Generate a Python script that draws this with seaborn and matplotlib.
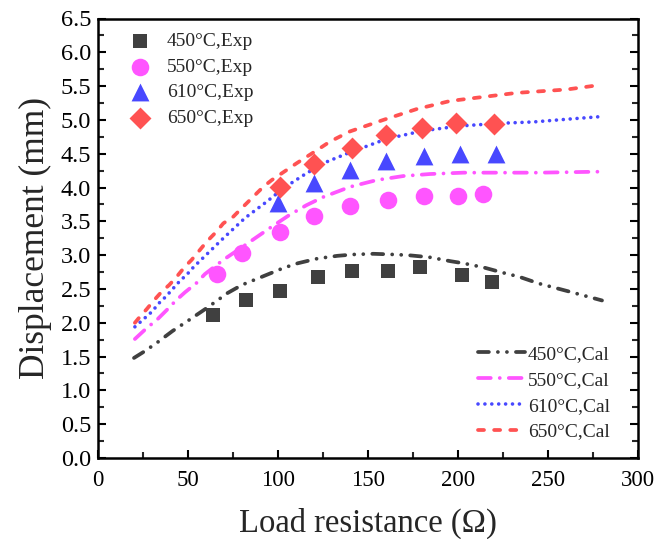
import matplotlib
matplotlib.use("Agg")
import matplotlib.pyplot as plt
import seaborn as sns
import pandas as pd
from matplotlib.ticker import MultipleLocator

# ---- experimental data ----
x450_exp = [64, 82, 101, 122, 141, 161, 179, 202, 219]
y450_exp = [2.12, 2.33, 2.47, 2.67, 2.77, 2.77, 2.83, 2.70, 2.60]
x550_exp = [66, 80, 101, 120, 140, 161, 181, 200, 214]
y550_exp = [2.72, 3.03, 3.34, 3.58, 3.72, 3.82, 3.87, 3.88, 3.90]
x610_exp = [100, 120, 140, 160, 181, 201, 221]
y610_exp = [3.77, 4.06, 4.26, 4.39, 4.46, 4.50, 4.50]
x650_exp = [101, 120, 141, 160, 180, 199, 220]
y650_exp = [4.01, 4.35, 4.58, 4.78, 4.88, 4.95, 4.94]

# ---- calculated curves ----
x450_cal = [20, 26, 33, 41.5, 50, 60, 72, 80, 92, 103, 111, 122, 133, 142, 153,
            164, 172, 184, 196, 203, 214, 225, 234, 245, 262, 280]
y450_cal = [1.48, 1.58, 1.71, 1.88, 2.03, 2.21, 2.44, 2.56, 2.69, 2.81, 2.88, 2.95,
            2.99, 3.01, 3.02, 3.01, 3.00, 2.97, 2.91, 2.88, 2.82, 2.74, 2.68, 2.58,
            2.46, 2.33]
x550_cal = [20.5, 27.4, 32.6, 39, 43.3, 48.3, 54.8, 59.4, 69.6, 80.7, 96.5, 106.7,
            115.9, 125.2, 140, 154.8, 169.6, 184.4, 203, 223, 245, 280]
y550_cal = [1.76, 1.93, 2.04, 2.21, 2.33, 2.45, 2.59, 2.72, 2.93, 3.13, 3.42, 3.60,
            3.74, 3.86, 4.01, 4.11, 4.17, 4.20, 4.22, 4.22, 4.22, 4.235]
x610_cal = [20.5, 26, 30.2, 33.5, 37.8, 41.5, 45.2, 49.6, 53.3, 57.6, 69.6, 81.7,
            93.7, 103, 114, 125.2, 139, 160.4, 180.7, 201, 223, 241.8, 260.4, 279.8]
y610_cal = [1.94, 2.07, 2.17, 2.28, 2.39, 2.50, 2.61, 2.72, 2.83, 2.94, 3.25, 3.55,
            3.79, 3.99, 4.18, 4.36, 4.51, 4.72, 4.84, 4.91, 4.95, 4.97, 5.01, 5.05]
x650_cal = [20.5, 23.3, 27, 31.7, 35.4, 39.6, 43.7, 48.3, 52, 56.7, 60.4, 65.9, 69.6,
            75.2, 78.9, 91.8, 96.5, 110.4, 121.5, 128.9, 140, 158.5, 177, 195.6, 214,
            232.6, 260.4, 279.8]
y650_cal = [2.00, 2.09, 2.20, 2.35, 2.46, 2.56, 2.68, 2.83, 2.93, 3.08, 3.20, 3.35,
            3.47, 3.57, 3.67, 4.01, 4.11, 4.36, 4.55, 4.68, 4.83, 5.00, 5.16, 5.28,
            5.34, 5.40, 5.45, 5.52]

exp_labels = ["450°C,Exp", "550°C,Exp", "610°C,Exp", "650°C,Exp"]
cal_labels = ["450°C,Cal", "550°C,Cal", "610°C,Cal", "650°C,Cal"]
x_ticks = [0, 50, 100, 150, 200, 250, 300]
y_ticks = [0.0, 0.5, 1.0, 1.5, 2.0, 2.5, 3.0, 3.5, 4.0, 4.5, 5.0, 5.5, 6.0, 6.5]

colors = ["#404040", "#ff55ff", "#4848ff", "#ff5252"]
markers = ["s", "o", "^", "D"]
msizes = [115, 160, 165, 125]

sns.set_style("ticks")
plt.rcParams["font.family"] = ["Liberation Serif", "DejaVu Serif"]

fig = plt.figure(figsize=(6.57, 5.39), dpi=100)
ax = fig.add_axes([98 / 657, 1 - 458 / 539, 540 / 657, 439.5 / 539])

exp_x = [x450_exp, x550_exp, x610_exp, x650_exp]
exp_y = [y450_exp, y550_exp, y610_exp, y650_exp]
cal_x = [x450_cal, x550_cal, x610_cal, x650_cal]
cal_y = [y450_cal, y550_cal, y610_cal, y650_cal]

lws = [2.7, 2.7, 2.6, 2.7]
dashes = [(0, (2.9, 2.4, 0.01, 2.4, 0.01, 2.4)),
          (0, (3.4, 2.4, 0.01, 2.4)),
          (0, (0.01, 1.9)),
          (0, (1.6, 2.7))]

cal_handles = []
for i in range(4):
    df = pd.DataFrame({"x": cal_x[i], "y": cal_y[i]})
    sns.lineplot(data=df, x="x", y="y", ax=ax, color=colors[i], linewidth=lws[i],
                 sort=False, label=cal_labels[i], legend=False)
    ln = ax.lines[-1]
    ln.set_linestyle(dashes[i])
    ln.set_dash_capstyle("round")
    ln.set_solid_capstyle("round")
    cal_handles.append(ln)

exp_handles = []
for i in range(4):
    df = pd.DataFrame({"x": exp_x[i], "y": exp_y[i]})
    sns.scatterplot(data=df, x="x", y="y", ax=ax, color=colors[i], marker=markers[i],
                    s=msizes[i], linewidth=0, label=exp_labels[i], legend=False,
                    zorder=3)
    exp_handles.append(ax.collections[-1])

ax.set_xlim(0, 300)
ax.set_ylim(0, 6.5)
ax.set_xticks(x_ticks)
ax.set_yticks(y_ticks)
ax.set_xticklabels([str(v) for v in x_ticks])
ax.set_yticklabels([f"{v:.1f}" for v in y_ticks])
ax.xaxis.set_minor_locator(MultipleLocator(25))
ax.yaxis.set_minor_locator(MultipleLocator(0.25))
ax.tick_params(which="major", direction="in", length=6, width=1.5, colors="black")
ax.tick_params(which="minor", direction="in", length=4, width=1.5)
ax.tick_params(axis="x", which="major", labelsize=16.5, pad=9)
ax.tick_params(axis="y", which="major", labelsize=17.5, pad=5)
ax.tick_params(which="both", right=True, top=False)
for s in ax.spines.values():
    s.set_linewidth(1.8)
    s.set_color("black")

ax.set_xlabel("Load resistance (Ω)", fontsize=23.5, labelpad=12)
ax.set_ylabel("Displacement (mm)", fontsize=25.5, labelpad=6)

leg1 = ax.legend(handles=exp_handles, labels=exp_labels, loc="upper left",
                 bbox_to_anchor=(0.045, 0.985), frameon=False, fontsize=14,
                 handlelength=1.0, handletextpad=0.9, labelspacing=0.4,
                 borderaxespad=0.0)
ax.add_artist(leg1)
ax.legend(handles=cal_handles, labels=cal_labels, loc="lower right",
          bbox_to_anchor=(0.962, 0.022), frameon=False, fontsize=14,
          handlelength=2.4, handletextpad=0.15, labelspacing=0.42,
          borderaxespad=0.0)

fig.savefig("out.png", dpi=100)
